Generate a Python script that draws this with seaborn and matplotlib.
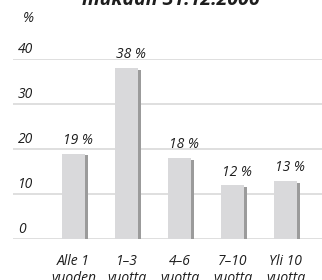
import numpy as np
import pandas as pd
import matplotlib
matplotlib.use("Agg")
import matplotlib.pyplot as plt
import matplotlib.transforms as mtransforms
import seaborn as sns

# data
categories = ["Alle 1\nvuoden", "1–3\nvuotta", "4–6\nvuotta", "7–10\nvuotta", "Yli 10\nvuotta"]
values = [19, 38, 18, 12, 13]
value_labels = ["19 %", "38 %", "18 %", "12 %", "13 %"]
y_ticks = [0, 10, 20, 30, 40]
title = "mukaan 31.12.2006"

sns.set_theme(style="white")
plt.rcParams["font.family"] = ["Open Sans", "DejaVu Sans"]

df = pd.DataFrame({"cat": categories, "val": values})

fig = plt.figure(figsize=(3.22, 2.8), dpi=100)
W, H = 322, 280
ax = fig.add_axes([13 / W, (H - 239) / H, 309 / W, 180 / H])

light = "#d9d9db"
dark = "#9b9b9b"
grid = "#d9d9d9"
txt = "#1e1e1e"
fs = 10

px = 1 / 53.0  # one pixel in x data units
py = 1 / 4.5   # one pixel in y data units
bw = 23 * px

# shadow bars, shifted right and a touch lower
ax.bar(np.arange(len(values)) + 3 * px, np.array(values) - 2 * py,
       width=bw, color=dark, linewidth=0, zorder=2)
sns.barplot(data=df, x="cat", y="val", ax=ax, color=light, width=bw,
            saturation=1, linewidth=0, zorder=3)

ax.set_xlim(-(73.5 - 13) * px, 4 + (322 - 285.5) * px)
ax.set_ylim(0, 40)
ax.set_yticks(y_ticks)
ax.yaxis.grid(True, color=grid, linewidth=1.2)
ax.set_axisbelow(True)
ax.tick_params(axis="y", left=False, labelleft=False)
ax.tick_params(axis="x", bottom=False, pad=5)
for s in ax.spines.values():
    s.set_visible(False)
ax.set_xlabel("")
ax.set_ylabel("")
for lab in ax.get_xticklabels():
    lab.set_fontstyle("italic")
    lab.set_fontsize(fs)
    lab.set_color(txt)
    lab.set_linespacing(1.15)

# y tick labels sit above each gridline
trans = mtransforms.blended_transform_factory(fig.transFigure, ax.transData)
for t in y_ticks:
    ax.text(18 / W, t + 9.5 * py, str(t), transform=trans, ha="left", va="center",
            fontsize=fs, style="italic", color=txt, clip_on=False)

for i, (v, lab) in enumerate(zip(values, value_labels)):
    ax.annotate(lab, (i, v), xytext=(4.5, 13), textcoords="offset pixels",
                ha="center", va="center", fontsize=fs, style="italic", color=txt)

fig.text(28 / W, (H - 19) / H, "%", ha="center", va="center",
         fontsize=fs, style="italic", color=txt)
fig.text(171 / W, (H - 5) / H, title, ha="center", va="baseline",
         fontsize=14, style="italic", weight="bold", color=txt)

fig.savefig("out.png", dpi=100)
